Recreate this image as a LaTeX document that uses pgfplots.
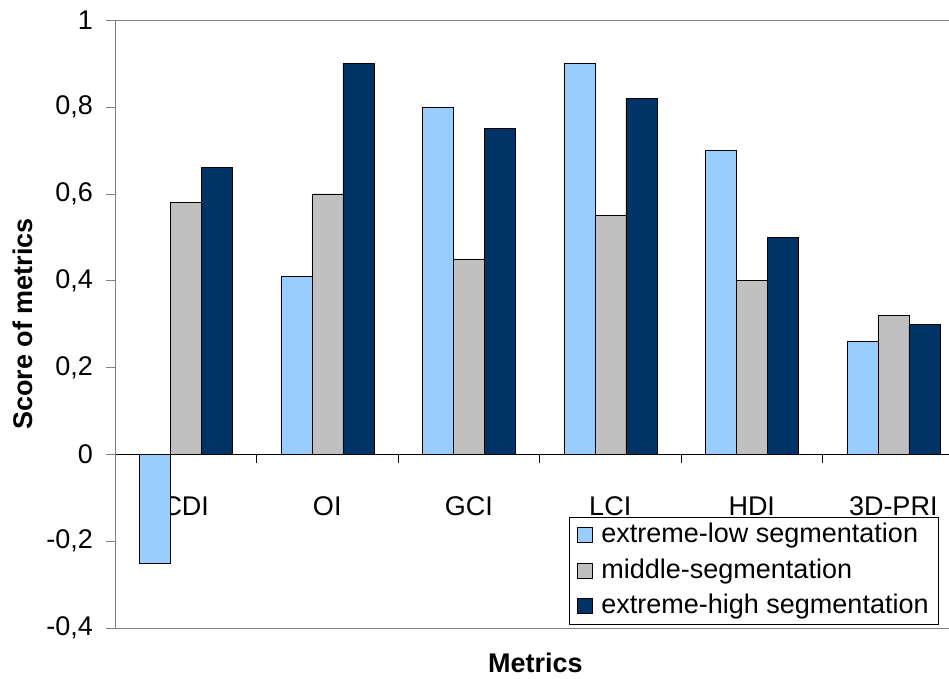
\documentclass[border=0pt]{standalone}
\usepackage{fontspec}
\setmainfont{Liberation Sans}
\usepackage{pgfplots}
\pgfplotsset{compat=1.18}
\definecolor{lowc}{HTML}{99CCFF}
\definecolor{midc}{HTML}{C0C0C0}
\definecolor{highc}{HTML}{003366}
\definecolor{axgray}{HTML}{808080}
\pgfplotsset{sqleg/.style={legend image code/.code={\draw[##1,draw=black] (0pt,-7.5pt) rectangle (15pt,7.5pt); \path[draw=none,fill=none] (0pt,0pt) -- (22pt,0pt);}}}
\begin{document}
\fontsize{27}{32}\selectfont
\begin{tikzpicture}
\begin{axis}[
  at={(0pt,0pt)}, anchor=south west,
  scale only axis, width=834pt, height=608pt,
  ymin=-0.4, ymax=1,
  xmin=-0.5, xmax=5.394,
  ybar=0pt, bar width=31pt,
  axis x line*=middle, axis y line*=left,
  x axis line style={black},
  y axis line style={axgray},
  ytick={-0.4,-0.2,0,0.2,0.4,0.6,0.8,1},
  ytick style={axgray},
  xtick style={draw=none},
  tick align=outside,
  major tick length=9pt,
  /pgf/number format/use comma,
  /pgf/number format/assume math mode=true,
  tick label style={font=\fontsize{27}{32}\selectfont},
  yticklabel style={xshift=-4pt},
  xtick={0,1,2,3,4,5},
  xticklabels={CDI,OI,GCI,LCI,HDI,3D-PRI},
  xticklabel style={anchor=base, yshift=-52pt},
  ylabel={\bfseries Score of metrics},
  ylabel style={font=\fontsize{27}{32}\selectfont, yshift=-5pt},
  xlabel={\bfseries Metrics},
  xlabel style={font=\fontsize{27}{32}\selectfont, at={(rel axis cs:0.504,0)}, anchor=base, yshift=-44pt},
  legend style={at={(rel axis cs:0.5444,0.0066)}, anchor=south west,
    draw=black, fill=white, font=\fontsize{27}{32}\selectfont,
    row sep=8pt, inner ysep=4pt, inner xsep=8pt},
  legend cell align=left,
]
\addplot[fill=lowc, draw=black, sqleg] coordinates {(0,-0.25) (1,0.41) (2,0.80) (3,0.90) (4,0.70) (5,0.26)};
\addplot[fill=midc, draw=black, sqleg] coordinates {(0,0.58) (1,0.60) (2,0.45) (3,0.55) (4,0.40) (5,0.32)};
\addplot[fill=highc, draw=black, sqleg] coordinates {(0,0.66) (1,0.90) (2,0.75) (3,0.82) (4,0.50) (5,0.30)};
\legend{extreme-low segmentation, middle-segmentation, extreme-high segmentation}
\draw[axgray] (rel axis cs:0,1) -- (rel axis cs:1,1);
\draw[axgray] (rel axis cs:0,0) -- (rel axis cs:1,0);
\pgfplotsinvokeforeach{0.5,1.5,2.5,3.5,4.5}{\draw[black] (axis cs:#1,0) -- ++(0pt,-9pt);}
\end{axis}
\pgfresetboundingbox
\path (-115pt,-50pt) rectangle (834pt,628pt);
\end{tikzpicture}
\end{document}
